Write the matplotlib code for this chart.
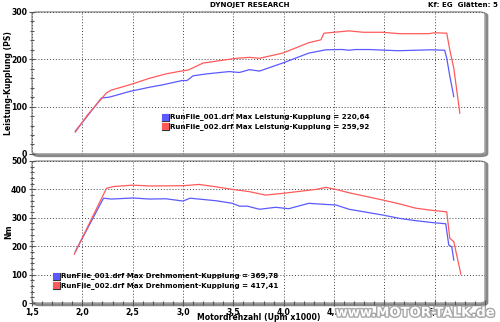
import numpy as np
import matplotlib.pyplot as plt
import matplotlib.patheffects as pe
from matplotlib.patches import FancyBboxPatch
from matplotlib.ticker import MultipleLocator, FuncFormatter

# Leistung (PS) ueber Drehzahl (Upm x1000)
rpm_pwr_1 = [1.93, 2.05, 2.19, 2.27, 2.47, 2.67, 2.80, 2.99, 3.04, 3.10, 3.23, 3.46, 3.56, 3.66,
             3.76, 3.99, 4.25, 4.42, 4.58, 4.65, 4.71, 4.85, 5.14, 5.47, 5.60, 5.62, 5.65, 5.69]
pwr_1 = [48, 80, 118, 120, 132, 141, 146, 155, 155, 165, 169, 174, 172, 178,
         175, 192, 213, 220, 220.64, 219, 220.5, 220.5, 218, 220, 219, 202, 165, 121]
rpm_pwr_2 = [1.93, 2.05, 2.24, 2.29, 2.47, 2.67, 2.83, 2.98, 3.05, 3.20, 3.43, 3.53, 3.66, 3.76,
             3.99, 4.25, 4.37, 4.40, 4.65, 4.79, 4.98, 5.15, 5.44, 5.50, 5.62, 5.65, 5.69, 5.75]
pwr_2 = [46, 82, 129, 135, 146, 160, 169, 175, 177, 192, 199, 202, 204, 202,
         213, 235, 241, 255, 259.92, 257, 257, 254, 254, 256, 255, 220, 181, 86]

# Drehmoment (Nm) ueber Drehzahl
rpm_trq_1 = [1.93, 2.21, 2.29, 2.50, 2.67, 2.83, 3.00, 3.07, 3.33, 3.49, 3.56, 3.64, 3.76, 3.92,
             4.05, 4.25, 4.42, 4.52, 4.65, 4.98, 5.15, 5.31, 5.48, 5.61, 5.64, 5.67, 5.69]
trq_1 = [181, 369, 366, 369.78, 366, 367, 359, 369, 360, 351, 341, 341, 330, 337,
         332, 351, 347, 345, 330, 310, 298, 290, 283, 279, 204, 198, 151]
rpm_trq_2 = [1.92, 2.24, 2.31, 2.50, 2.67, 3.00, 3.16, 3.33, 3.49, 3.62, 3.66, 3.82, 3.99, 4.32,
             4.42, 4.52, 4.65, 4.98, 5.15, 5.31, 5.48, 5.62, 5.65, 5.69, 5.76]
trq_2 = [172, 404, 410, 415, 412, 413, 417.41, 409, 400, 394, 392, 380, 386, 400,
         407, 400, 388, 363, 349, 334, 326, 321, 228, 216, 102]

max_pwr = [220.64, 259.92]
max_trq = [369.78, 417.41]
files = ["RunFile_001.drf", "RunFile_002.drf"]
c_blue = "#5a5aff"
c_red = "#ff5a5a"

fig = plt.figure(figsize=(5, 3.22), dpi=100)
ax1 = fig.add_axes([0.064, 0.522, 0.906, 0.441])
ax2 = fig.add_axes([0.064, 0.059, 0.906, 0.441])

bold = dict(fontsize=5.1, fontweight="bold", family="DejaVu Sans")
comma = FuncFormatter(lambda v, p: f"{v:.1f}".replace(".", ","))

for ax, ymax in [(ax1, 300), (ax2, 500)]:
    ax.set_xlim(1.5, 6.0)
    ax.set_ylim(0, ymax)
    ax.xaxis.set_major_locator(MultipleLocator(0.5))
    ax.xaxis.set_minor_locator(MultipleLocator(0.1))
    ax.yaxis.set_major_locator(MultipleLocator(100))
    ax.yaxis.set_minor_locator(MultipleLocator(20))
    ax.grid(True, which="major", color="#444444", linestyle=(0, (1, 2)), linewidth=0.7)
    ax.tick_params(which="both", direction="inout", color="#555555", width=0.8, pad=1)
    ax.tick_params(which="major", length=5)
    ax.tick_params(which="minor", length=3)
    for s in ax.spines.values():
        s.set_visible(False)
    # Rahmen mit Schatten
    ax.add_patch(FancyBboxPatch((0.004, -0.012), 1.0, 1.0, boxstyle="round,pad=0,rounding_size=0.015",
                                transform=ax.transAxes, facecolor="none", edgecolor="#888888",
                                linewidth=2.2, clip_on=False, zorder=0))
    ax.add_patch(FancyBboxPatch((0, 0), 1.0, 1.0, boxstyle="round,pad=0,rounding_size=0.015",
                                transform=ax.transAxes, facecolor="white", edgecolor="#999999",
                                linewidth=1.0, clip_on=False, zorder=0.5))
    ax.set_axisbelow(True)
    ax.yaxis.set_major_formatter(FuncFormatter(lambda v, p: f"{int(v)}"))
    ax.yaxis.set_label_coords(-0.051, 0.5)

ax1.tick_params(axis="x", which="both", bottom=False, labelbottom=False)
ax2.xaxis.set_major_formatter(comma)
for t in ax1.get_yticklabels() + ax2.get_xticklabels() + ax2.get_yticklabels():
    t.set_fontsize(5.6)
    t.set_fontweight("bold")

ax1.plot(rpm_pwr_1, pwr_1, color=c_blue, lw=0.9, zorder=3)
ax1.plot(rpm_pwr_2, pwr_2, color=c_red, lw=0.9, zorder=3)
ax2.plot(rpm_trq_1, trq_1, color=c_blue, lw=0.9, zorder=3)
ax2.plot(rpm_trq_2, trq_2, color=c_red, lw=0.9, zorder=3)

ax1.set_ylabel("Leistung-Kupplung (PS)", fontsize=5.6, fontweight="bold", va="center")
ax2.set_ylabel("Nm", fontsize=5.6, fontweight="bold", va="center")
ax2.set_xlabel("Motordrehzahl (Upm x1000)", fontsize=5.6, fontweight="bold", va="center")
ax2.xaxis.set_label_coords(0.5, -0.103)

# Legenden
def legend(ax, x, y, label, values):
    for i, (f, v, c) in enumerate(zip(files, values, [c_blue, c_red])):
        yy = y - i * 0.065
        ax.text(x, yy, "\u25A0", color=c, fontsize=6.5, transform=ax.transAxes, va="center",
                path_effects=[pe.withStroke(linewidth=0.8, foreground="#333333")])
        txt = f"{f} Max {label} = " + f"{v:.2f}".replace(".", ",")
        ax.text(x + 0.02, yy, txt, transform=ax.transAxes, va="center", **bold)

legend(ax1, 0.285, 0.26, "Leistung-Kupplung", max_pwr)
legend(ax2, 0.044, 0.19, "Drehmoment-Kupplung", max_trq)

fig.text(0.5, 0.984, "DYNOJET RESEARCH", ha="center", va="center", **bold)
fig.text(0.996, 0.984, "Kf: EG  Glätten: 5", ha="right", va="center", **bold)
fig.text(0.992, 0.028, "www.MOTOR-TALK.de", ha="right", va="center", fontsize=9.5,
         fontweight="bold", color="white", zorder=5,
         path_effects=[pe.withStroke(linewidth=2, foreground="#a8a8a8")])

fig.savefig("out.png", dpi=100)
